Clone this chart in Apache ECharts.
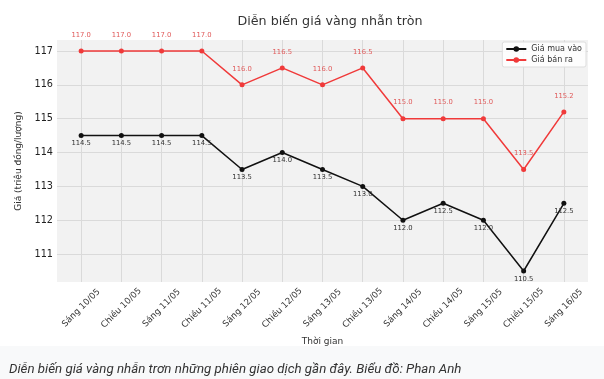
<!DOCTYPE html>
<html><head><meta charset="utf-8">
<script src="https://cdn.jsdelivr.net/npm/echarts@6/dist/echarts.min.js"></script>
<style>html,body{margin:0;padding:0;background:#fff}#c{width:604px;height:379px}</style>
</head><body><div id="c"></div>
<script>
const categories = ['Sáng 10/05','Chiều 10/05','Sáng 11/05','Chiều 11/05','Sáng 12/05','Chiều 12/05','Sáng 13/05','Chiều 13/05','Sáng 14/05','Chiều 14/05','Sáng 15/05','Chiều 15/05','Sáng 16/05'];
const buyPrices = [114.5,114.5,114.5,114.5,113.5,114.0,113.5,113.0,112.0,112.5,112.0,110.5,112.5];
const sellPrices = [117.0,117.0,117.0,117.0,116.0,116.5,116.0,116.5,115.0,115.0,115.0,113.5,115.2];
const yTicks = [111,112,113,114,115,116,117];
const xTicks = categories.map((c,i)=>i);

const chart = echarts.init(document.getElementById('c'), null, {renderer:'canvas'});
const font = 'DejaVu Sans';
chart.setOption({
  backgroundColor:'#fff',
  animation:false,
  title:[{
    text:'Diễn biến giá vàng nhẫn tròn', left:325, top:10, textAlign:'center',
    textStyle:{fontFamily:font, fontSize:12.7, fontWeight:'normal', color:'#333'}
  },{
    text:'Diễn biến giá vàng nhẫn trơn những phiên giao dịch gần đây. Biểu đồ: Phan Anh',
    left:4, top:358,
    textStyle:{fontFamily:'Roboto', fontStyle:'italic', fontSize:13.3, fontWeight:'normal', color:'#333'}
  }],
  graphic:[{type:'rect', left:0, top:346, shape:{width:604,height:33}, style:{fill:'#f8f9fa'}, z:-1}],
  legend:{
    orient:'vertical', right:18, top:42, itemWidth:20, itemHeight:7, itemGap:3,
    backgroundColor:'rgba(255,255,255,0.85)', borderColor:'#ddd', borderWidth:1, borderRadius:2,
    padding:[3,4,3,3],
    textStyle:{fontFamily:font, fontSize:8, color:'#333'},
    data:['Giá mua vào','Giá bán ra']
  },
  grid:{left:57, right:16, top:40, bottom:97, show:true, backgroundColor:'#f2f2f2', borderWidth:0},
  xAxis:{
    type:'value', min:-0.6, max:12.6,
    axisLine:{show:false}, axisTick:{show:false, customValues:xTicks},
    splitLine:{show:true, lineStyle:{color:'#dadada', width:1}},
    axisLabel:{customValues:xTicks, rotate:45, align:'center', verticalAlign:'middle', margin:26,
      fontFamily:font, fontSize:8.7, color:'#333', formatter:v=>categories[Math.round(v)]},
    name:'Thời gian', nameLocation:'middle', nameGap:46,
    nameTextStyle:{fontFamily:font, fontSize:9, color:'#333'}
  },
  yAxis:{
    type:'value', min:110.175, max:117.325,
    axisLine:{show:false}, axisTick:{show:false, customValues:yTicks},
    splitLine:{show:true, lineStyle:{color:'#dadada', width:1}},
    axisLabel:{customValues:yTicks, margin:4, fontFamily:font, fontSize:9.7, color:'#222', formatter:v=>String(v)},
    name:'Giá (triệu đồng/lượng)', nameLocation:'middle', nameGap:29,
    nameTextStyle:{fontFamily:font, fontSize:9, color:'#333'}
  },
  series:[{
    name:'Giá mua vào', type:'line', data:buyPrices.map((v,i)=>[i,v]),
    symbol:'circle', symbolSize:5, color:'#111',
    lineStyle:{width:1.5, color:'#111'}, itemStyle:{color:'#111'},
    label:{show:true, position:'bottom', distance:2, fontFamily:font, fontSize:6.8, color:'#333', formatter:p=>p.value[1].toFixed(1)}
  },{
    name:'Giá bán ra', type:'line', data:sellPrices.map((v,i)=>[i,v]),
    symbol:'circle', symbolSize:5, color:'#f03a3a',
    lineStyle:{width:1.5, color:'#f03a3a'}, itemStyle:{color:'#f03a3a'},
    label:{show:true, position:'top', distance:10, fontFamily:font, fontSize:6.8, color:'#e05a5a', formatter:p=>p.value[1].toFixed(1)}
  }]
});
</script></body></html>
